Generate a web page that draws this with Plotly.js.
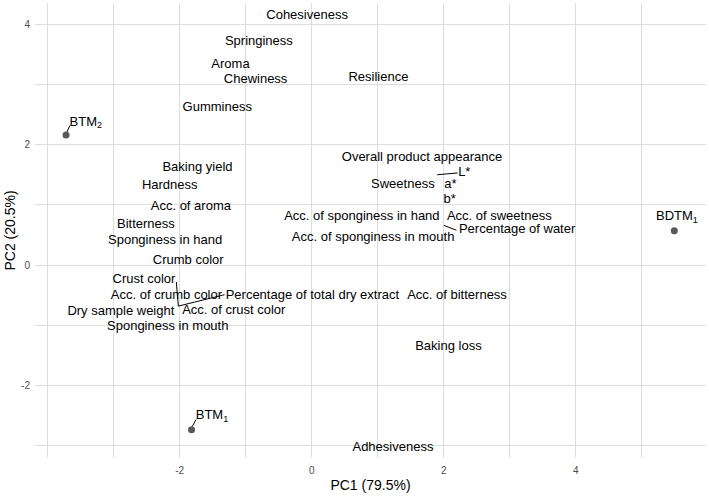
<!DOCTYPE html>
<html>
<head>
<meta charset="utf-8">
<script src="https://cdn.plot.ly/plotly-3.0.1.min.js"></script>
<style>html,body{margin:0;padding:0;background:#fff;}#chart{width:709px;height:496px;}</style>
</head>
<body>
<div id="chart"></div>
<script>
// Variable labels (label positions as shown on the biplot)
const varNames = ["Cohesiveness","Springiness","Aroma","Chewiness","Gumminess","Resilience",
  "Baking yield","Hardness","Acc. of aroma","Bitterness","Sponginess in hand","Crumb color",
  "Crust color","Acc. of crumb color","Percentage of total dry extract","Dry sample weight",
  "Acc. of crust color","Sponginess in mouth","Acc. of bitterness","Baking loss","Adhesiveness",
  "Overall product appearance","L*","Sweetness","a*","b*","Acc. of sponginess in hand",
  "Acc. of sweetness","Acc. of sponginess in mouth","Percentage of water"];
const varX = [-0.07,-0.80,-1.23,-0.85,-1.43,1.01,
  -1.73,-2.15,-1.83,-2.51,-2.22,-1.87,
  -2.54,-2.20,0.01,-2.89,
  -1.18,-2.18,2.20,2.07,1.23,
  1.67,2.31,1.38,2.10,2.09,0.76,
  2.84,0.93,3.11];
const varY = [4.14,3.71,3.33,3.08,2.62,3.11,
  1.61,1.31,0.97,0.67,0.41,0.07,
  -0.25,-0.50,-0.50,-0.78,
  -0.76,-1.02,-0.50,-1.36,-3.03,
  1.78,1.53,1.33,1.33,1.08,0.81,
  0.81,0.46,0.58];

// Samples (individuals)
const sampleNames = ["BTM<sub>2</sub>","BTM<sub>1</sub>","BDTM<sub>1</sub>"];
const sampleX = [-3.72,-1.82,5.49];
const sampleY = [2.16,-2.73,0.57];
const sampleLabelX = [-3.42,-1.51,5.53];
const sampleLabelY = [2.37,-2.50,0.80];

// Repel connector segments (from point to label)
const segX0 = [-3.71,-1.81,-2.02,-2.02,1.90,2.00];
const segY0 = [2.20,-2.68,-0.68,-0.68,1.50,0.66];
const segX1 = [-3.66,-1.75,-2.05,-1.32,2.21,2.19];
const segY1 = [2.32,-2.56,-0.28,-0.49,1.53,0.58];

const xTicks = [-4,-2,0,2,4];
const xTickText = ["","-2","0","2","4"];
const yTicks = [-2,0,2,4];
const yTickText = ["-2","0","2","4"];

const segXs = [], segYs = [];
for (let i = 0; i < segX0.length; i++) {
  segXs.push(segX0[i], segX1[i], null);
  segYs.push(segY0[i], segY1[i], null);
}

const FONT = "Liberation Sans, Arial, Helvetica, sans-serif";
const GRID = "#dedede";

const traces = [
  {type:"scatter", mode:"lines", x:segXs, y:segYs,
   line:{color:"#000", width:1}, hoverinfo:"skip", showlegend:false},
  {type:"scatter", mode:"text", x:varX, y:varY, text:varNames,
   textposition:"middle center", textfont:{family:FONT, size:13, color:"#000"},
   cliponaxis:false, hoverinfo:"skip", showlegend:false},
  {type:"scatter", mode:"markers", x:sampleX, y:sampleY,
   marker:{color:"#595959", size:7}, hoverinfo:"skip", showlegend:false},
  {type:"scatter", mode:"text", x:sampleLabelX, y:sampleLabelY, text:sampleNames,
   textposition:"middle center", textfont:{family:FONT, size:13, color:"#000"},
   cliponaxis:false, hoverinfo:"skip", showlegend:false}
];

const layout = {
  width:709, height:496,
  margin:{l:35, r:3, t:3, b:38},
  paper_bgcolor:"#fff", plot_bgcolor:"#fff",
  font:{family:FONT, color:"#000"},
  showlegend:false,
  hovermode:false,
  xaxis:{
    range:[-4.19,5.97],
    tickmode:"array", tickvals:xTicks, ticktext:xTickText,
    tickfont:{family:FONT, size:10, color:"#4d4d4d"},
    ticklabelstandoff:5,
    showgrid:true, gridcolor:GRID, gridwidth:1,
    minor:{tickmode:"array", tickvals:[-3,-1,1,3,5], showgrid:true, gridcolor:GRID, gridwidth:1, ticks:""},
    zeroline:false, showline:false, ticks:"",
    title:{text:"PC1 (79.5%)", font:{family:FONT, size:14, color:"#000"}, standoff:5}
  },
  yaxis:{
    range:[-3.20,4.35],
    tickmode:"array", tickvals:yTicks, ticktext:yTickText,
    tickfont:{family:FONT, size:10, color:"#4d4d4d"},
    ticklabelstandoff:4,
    showgrid:true, gridcolor:GRID, gridwidth:1,
    minor:{tickmode:"array", tickvals:[-3,-1,1,3], showgrid:true, gridcolor:GRID, gridwidth:1, ticks:""},
    zeroline:false, showline:false, ticks:"",
    title:{text:"PC2 (20.5%)", font:{family:FONT, size:14, color:"#000"}, standoff:2}
  }
};

Plotly.newPlot("chart", traces, layout, {staticPlot:true, displayModeBar:false});
</script>
</body>
</html>
